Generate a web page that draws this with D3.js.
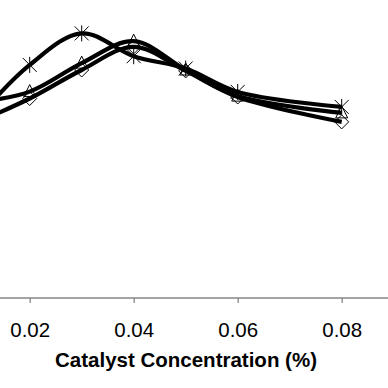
<!DOCTYPE html>
<html>
<head>
<meta charset="utf-8">
<script src="https://cdn.jsdelivr.net/npm/d3@7"></script>
<style>
    body { margin: 0; background: #fff; }
    svg { display: block; }
</style>
</head>
<body>
<div id="chart"></div>
<script>
const width = 388;
const height = 388;

// catalyst concentration (%) - first point sits left of the visible area
const concentrations = [0.01, 0.02, 0.03, 0.04, 0.05, 0.06, 0.08];
const seriesStar = [60.0, 77.7, 88.2, 80.6, 76.5, 68.7, 63.7];
const seriesTriangle = [65.3, 68.8, 78.3, 85.6, 76.0, 67.3, 61.7];
const seriesDiamond = [58.7, 66.5, 76.0, 83.7, 75.7, 67.0, 58.7];
const tickValues = [0.02, 0.04, 0.06, 0.08];

const series = [
    { name: "star", values: seriesStar },
    { name: "triangle", values: seriesTriangle },
    { name: "diamond", values: seriesDiamond }
];

const svg = d3.select("#chart")
    .append("svg")
    .attr("width", width)
    .attr("height", height);

const x = d3.scaleLinear()
    .domain([0, 0.1])
    .range([-74.3, 445.7]);

const y = d3.scaleLinear()
    .domain([0, 100])
    .range([298, -2]);

// x axis
const xAxis = d3.axisBottom(x)
    .tickValues(tickValues)
    .tickSize(5)
    .tickPadding(19)
    .tickFormat(d3.format(".2f"));

const axisG = svg.append("g")
    .attr("transform", `translate(0,${y(0)})`)
    .call(xAxis);

axisG.select(".domain").remove();
axisG.append("line")
    .attr("x1", 0)
    .attr("x2", width)
    .attr("stroke", "#868686")
    .attr("stroke-width", 1.3);
axisG.selectAll(".tick line").attr("stroke", "#868686").attr("stroke-width", 1.3);
axisG.selectAll(".tick text")
    .attr("fill", "#000")
    .style("font-family", "Arial, 'Liberation Sans', sans-serif")
    .style("font-size", "20.5px");

svg.append("text")
    .attr("x", 186)
    .attr("y", 367)
    .attr("text-anchor", "middle")
    .style("font-family", "Arial, 'Liberation Sans', sans-serif")
    .style("font-weight", "bold")
    .style("font-size", "20.5px")
    .text("Catalyst Concentration (%)");

const line = d3.line()
    .x((d, i) => x(concentrations[i]))
    .y(d => y(d))
    .curve(d3.curveCatmullRom.alpha(0.5));

svg.append("g")
    .selectAll("path")
    .data(series)
    .enter().append("path")
    .attr("d", d => line(d.values))
    .attr("fill", "none")
    .attr("stroke", "#000")
    .attr("stroke-width", 4.2);

// markers
function markerPath(type) {
    if (type === "star") {
        const r = 7;
        return `M${-r},${-r}L${r},${r}M${-r},${r}L${r},${-r}M0,${-r - 1}L0,${r + 1}`;
    }
    if (type === "triangle") {
        return "M0,-7L6,5L-6,5Z";
    }
    return "M0,-7L7,0L0,7L-7,0Z";
}

series.forEach(s => {
    svg.append("g")
        .selectAll("path")
        .data(s.values)
        .enter().append("path")
        .attr("transform", (d, i) => `translate(${x(concentrations[i])},${y(d)})`)
        .attr("d", markerPath(s.name))
        .attr("fill", "none")
        .attr("stroke", "#000")
        .attr("stroke-width", 1);
});
</script>
</body>
</html>
